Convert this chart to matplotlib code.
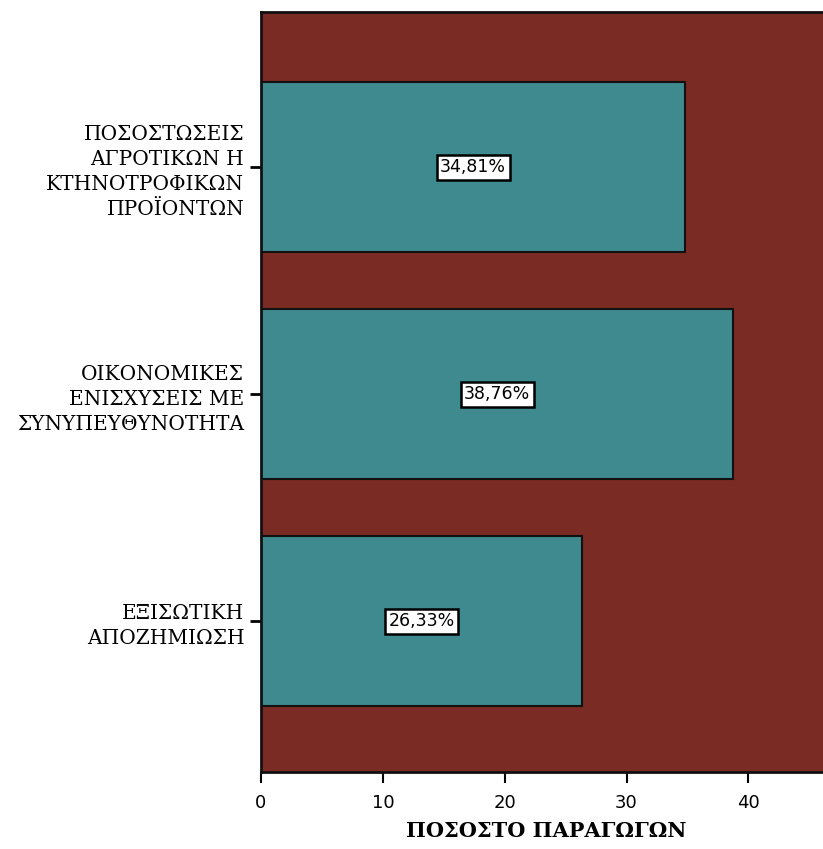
import matplotlib
matplotlib.use("Agg")
import matplotlib.pyplot as plt

categories = ["ΠΟΣΟΣΤΩΣΕΙΣ\nΑΓΡΟΤΙΚΩΝ Η\nΚΤΗΝΟΤΡΟΦΙΚΩΝ\nΠΡΟΪΟΝΤΩΝ",
              "ΟΙΚΟΝΟΜΙΚΕΣ\nΕΝΙΣΧΥΣΕΙΣ ΜΕ\nΣΥΝΥΠΕΥΘΥΝΟΤΗΤΑ",
              "ΕΞΙΣΩΤΙΚΗ\nΑΠΟΖΗΜΙΩΣΗ"]
values = [34.81, 38.76, 26.33]
value_labels = ["34,81%", "38,76%", "26,33%"]
xticks = [0, 10, 20, 30, 40]
xlabel = "ΠΟΣΟΣΤΟ ΠΑΡΑΓΩΓΩΝ"

fig = plt.figure(figsize=(8.23, 8.49), dpi=100)
ax = fig.add_axes([261/823, 1 - 772/849, 1 - 261/823 + 0.01, (772 - 12)/849])
ax.set_facecolor("#7a2b23")

ypos = list(range(len(categories)))
bars = ax.barh(ypos, values, height=0.75, color="#3f8a8e", edgecolor="#111111", linewidth=1.5)
for y, v, lab in zip(ypos, values, value_labels):
    ax.text(v / 2, y, lab, ha="center", va="center", fontsize=12.5, family="DejaVu Sans",
            color="black",
            bbox=dict(boxstyle="square,pad=0.2", facecolor="white", edgecolor="black", linewidth=1.8))

ax.set_ylim(2.665, -0.683)
ax.set_xlim(0, 46.8)
ax.set_yticks(ypos)
ax.set_yticklabels(categories, family="DejaVu Serif", fontsize=14.5, ha="right", multialignment="right",
                   linespacing=1.4)
ax.set_xticks(xticks)
ax.set_xticklabels([str(t) for t in xticks], family="DejaVu Sans", fontsize=13)
ax.tick_params(axis="y", length=8, width=2, direction="out", pad=4)
ax.tick_params(axis="x", length=8, width=1.5, direction="out", pad=8)
ax.set_xlabel(xlabel, family="DejaVu Serif", fontsize=15, fontweight="bold", labelpad=6)

for side in ["top", "left", "bottom"]:
    ax.spines[side].set_linewidth(2)
    ax.spines[side].set_color("#111111")
ax.spines["right"].set_visible(False)

fig.savefig("out.png", dpi=100)
